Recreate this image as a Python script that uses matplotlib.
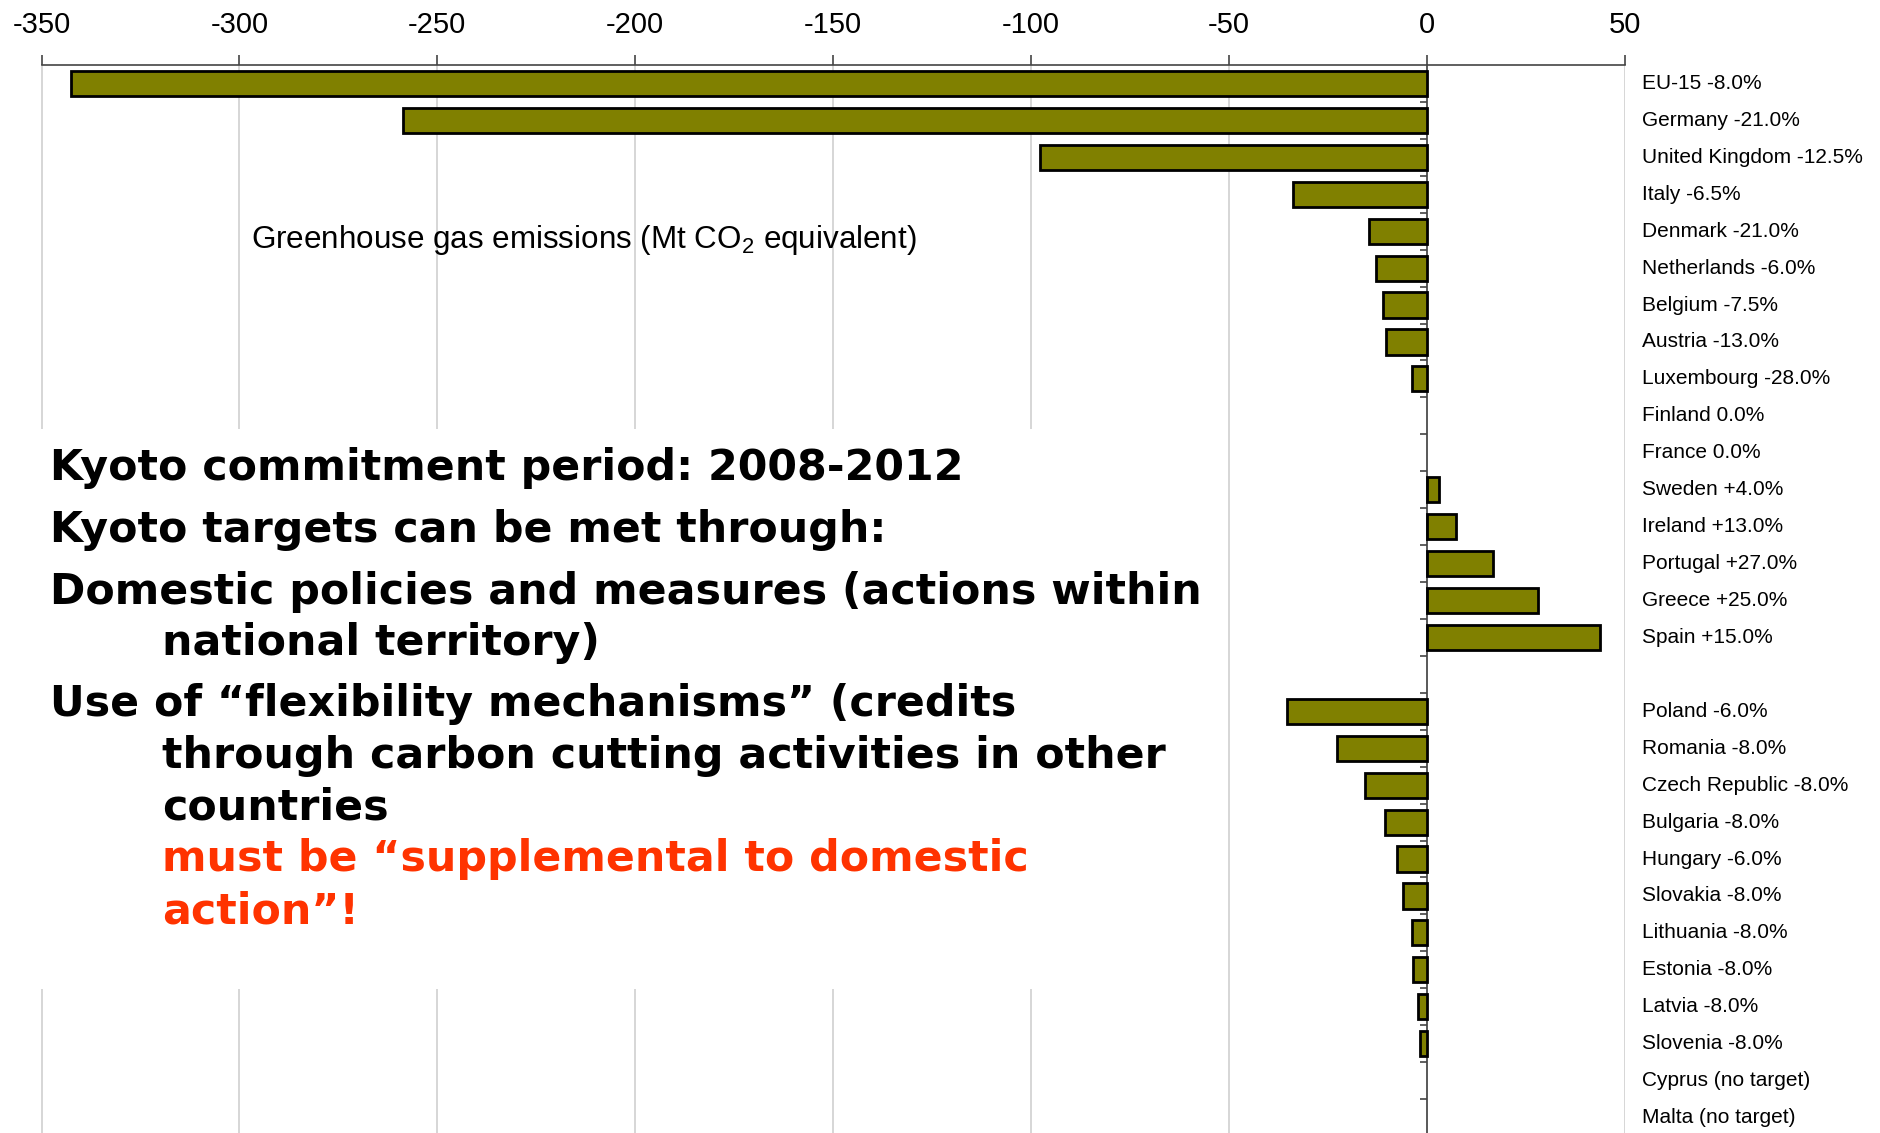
import numpy as np
import matplotlib
matplotlib.use("Agg")
import matplotlib.pyplot as plt
from matplotlib.patches import Rectangle
import matplotlib.transforms as mtransforms

plt.rcParams['font.family'] = ['Liberation Sans', 'DejaVu Sans']
plt.rcParams['mathtext.fontset'] = 'custom'
plt.rcParams['mathtext.rm'] = 'Liberation Sans'
plt.rcParams['mathtext.default'] = 'regular'

# ---- data ----
countries = ["EU-15", "Germany", "United Kingdom", "Italy", "Denmark", "Netherlands",
             "Belgium", "Austria", "Luxembourg", "Finland", "France", "Sweden", "Ireland",
             "Portugal", "Greece", "Spain", "", "Poland", "Romania", "Czech Republic",
             "Bulgaria", "Hungary", "Slovakia", "Lithuania", "Estonia", "Latvia",
             "Slovenia", "Cyprus", "Malta"]
targets = ["-8.0%", "-21.0%", "-12.5%", "-6.5%", "-21.0%", "-6.0%", "-7.5%", "-13.0%",
           "-28.0%", "0.0%", "0.0%", "+4.0%", "+13.0%", "+27.0%", "+25.0%", "+15.0%", "",
           "-6.0%", "-8.0%", "-8.0%", "-8.0%", "-6.0%", "-8.0%", "-8.0%", "-8.0%", "-8.0%",
           "-8.0%", "(no target)", "(no target)"]
emissions = [-342.6, -258.7, -97.9, -33.9, -14.7, -12.9, -11.1, -10.4, -3.7, 0.0, 0.0,
             3.0, 7.4, 16.6, 27.9, 43.6, np.nan, -35.3, -22.8, -15.8, -10.6, -7.6,
             -6.0, -3.9, -3.5, -2.2, -1.7, np.nan, np.nan]
xticks = [-350, -300, -250, -200, -150, -100, -50, 0, 50]

W, H = 1881, 1133
fig = plt.figure(figsize=(W / 100, H / 100), dpi=100)
ax = fig.add_axes([41.5 / W, -3.0 / H, (1625 - 41.5) / W, 1 - 62 / H])

n = len(countries)
ypos = np.arange(n)
vals = np.array(emissions, dtype=float)
mask = ~np.isnan(vals) & (vals != 0)
ax.barh(ypos[mask], vals[mask], height=0.68, color='#808000', edgecolor='black',
        linewidth=2.0, zorder=3)

ax.set_xlim(-350, 50)
ax.set_ylim(n - 0.5, -0.5)

# x axis on top
ax.xaxis.tick_top()
ax.set_xticks(xticks)
ax.set_xticklabels([str(v) for v in xticks])
ax.tick_params(axis='x', which='major', direction='out', length=7, width=1.2,
               color='#444444', labelsize=21, pad=12)
ax.grid(axis='x', color='#cccccc', linewidth=1.1)
ax.set_axisbelow(True)

# y axis through zero
ax.spines['left'].set_position(('data', 0))
ax.spines['left'].set_color('#444444')
ax.spines['left'].set_linewidth(1.2)
ax.spines['right'].set_visible(False)
ax.spines['bottom'].set_visible(False)
ax.spines['top'].set_color('#444444')
ax.spines['top'].set_linewidth(1.2)
ax.set_yticks([])
ax.set_yticks(np.arange(n) + 0.5, minor=True)
ax.tick_params(axis='y', which='minor', direction='out', length=5, width=1.2,
               color='#444444', labelleft=False)

# right-hand labels
trans = mtransforms.blended_transform_factory(fig.transFigure, ax.transData)
for i, (c, t) in enumerate(zip(countries, targets)):
    if c:
        ax.text(1642 / W, i, f"{c} {t}", transform=trans, ha='left', va='center',
                fontsize=15, clip_on=False)

# white box behind the text
ax.add_patch(Rectangle((0, 1 - 989 / H), 1210 / W, (989 - 429) / H,
                       transform=fig.transFigure, facecolor='white', edgecolor='none',
                       zorder=1, clip_on=False))

fig.text(251 / W, 1 - 248 / H, "Greenhouse gas emissions (Mt CO$_2$ equivalent)",
         fontsize=22.6, ha='left', va='baseline')

lines = [
    (50, 480, "Kyoto commitment period: 2008-2012", 'black'),
    (50, 542, "Kyoto targets can be met through:", 'black'),
    (50, 604, "Domestic policies and measures (actions within", 'black'),
    (162, 655, "national territory)", 'black'),
    (50, 716, "Use of \u201cflexibility mechanisms\u201d (credits", 'black'),
    (162, 768, "through carbon cutting activities in other", 'black'),
    (162, 820, "countries", 'black'),
    (162, 871, "must be \u201csupplemental to domestic", '#ff3300'),
    (162, 923, "action\u201d!", '#ff3300'),
]
for x, y, s, col in lines:
    fig.text(x / W, 1 - y / H, s, fontsize=30.8, fontweight='bold', color=col,
             family=['DejaVu Sans'], ha='left', va='baseline')

fig.savefig("out.png", dpi=100)
